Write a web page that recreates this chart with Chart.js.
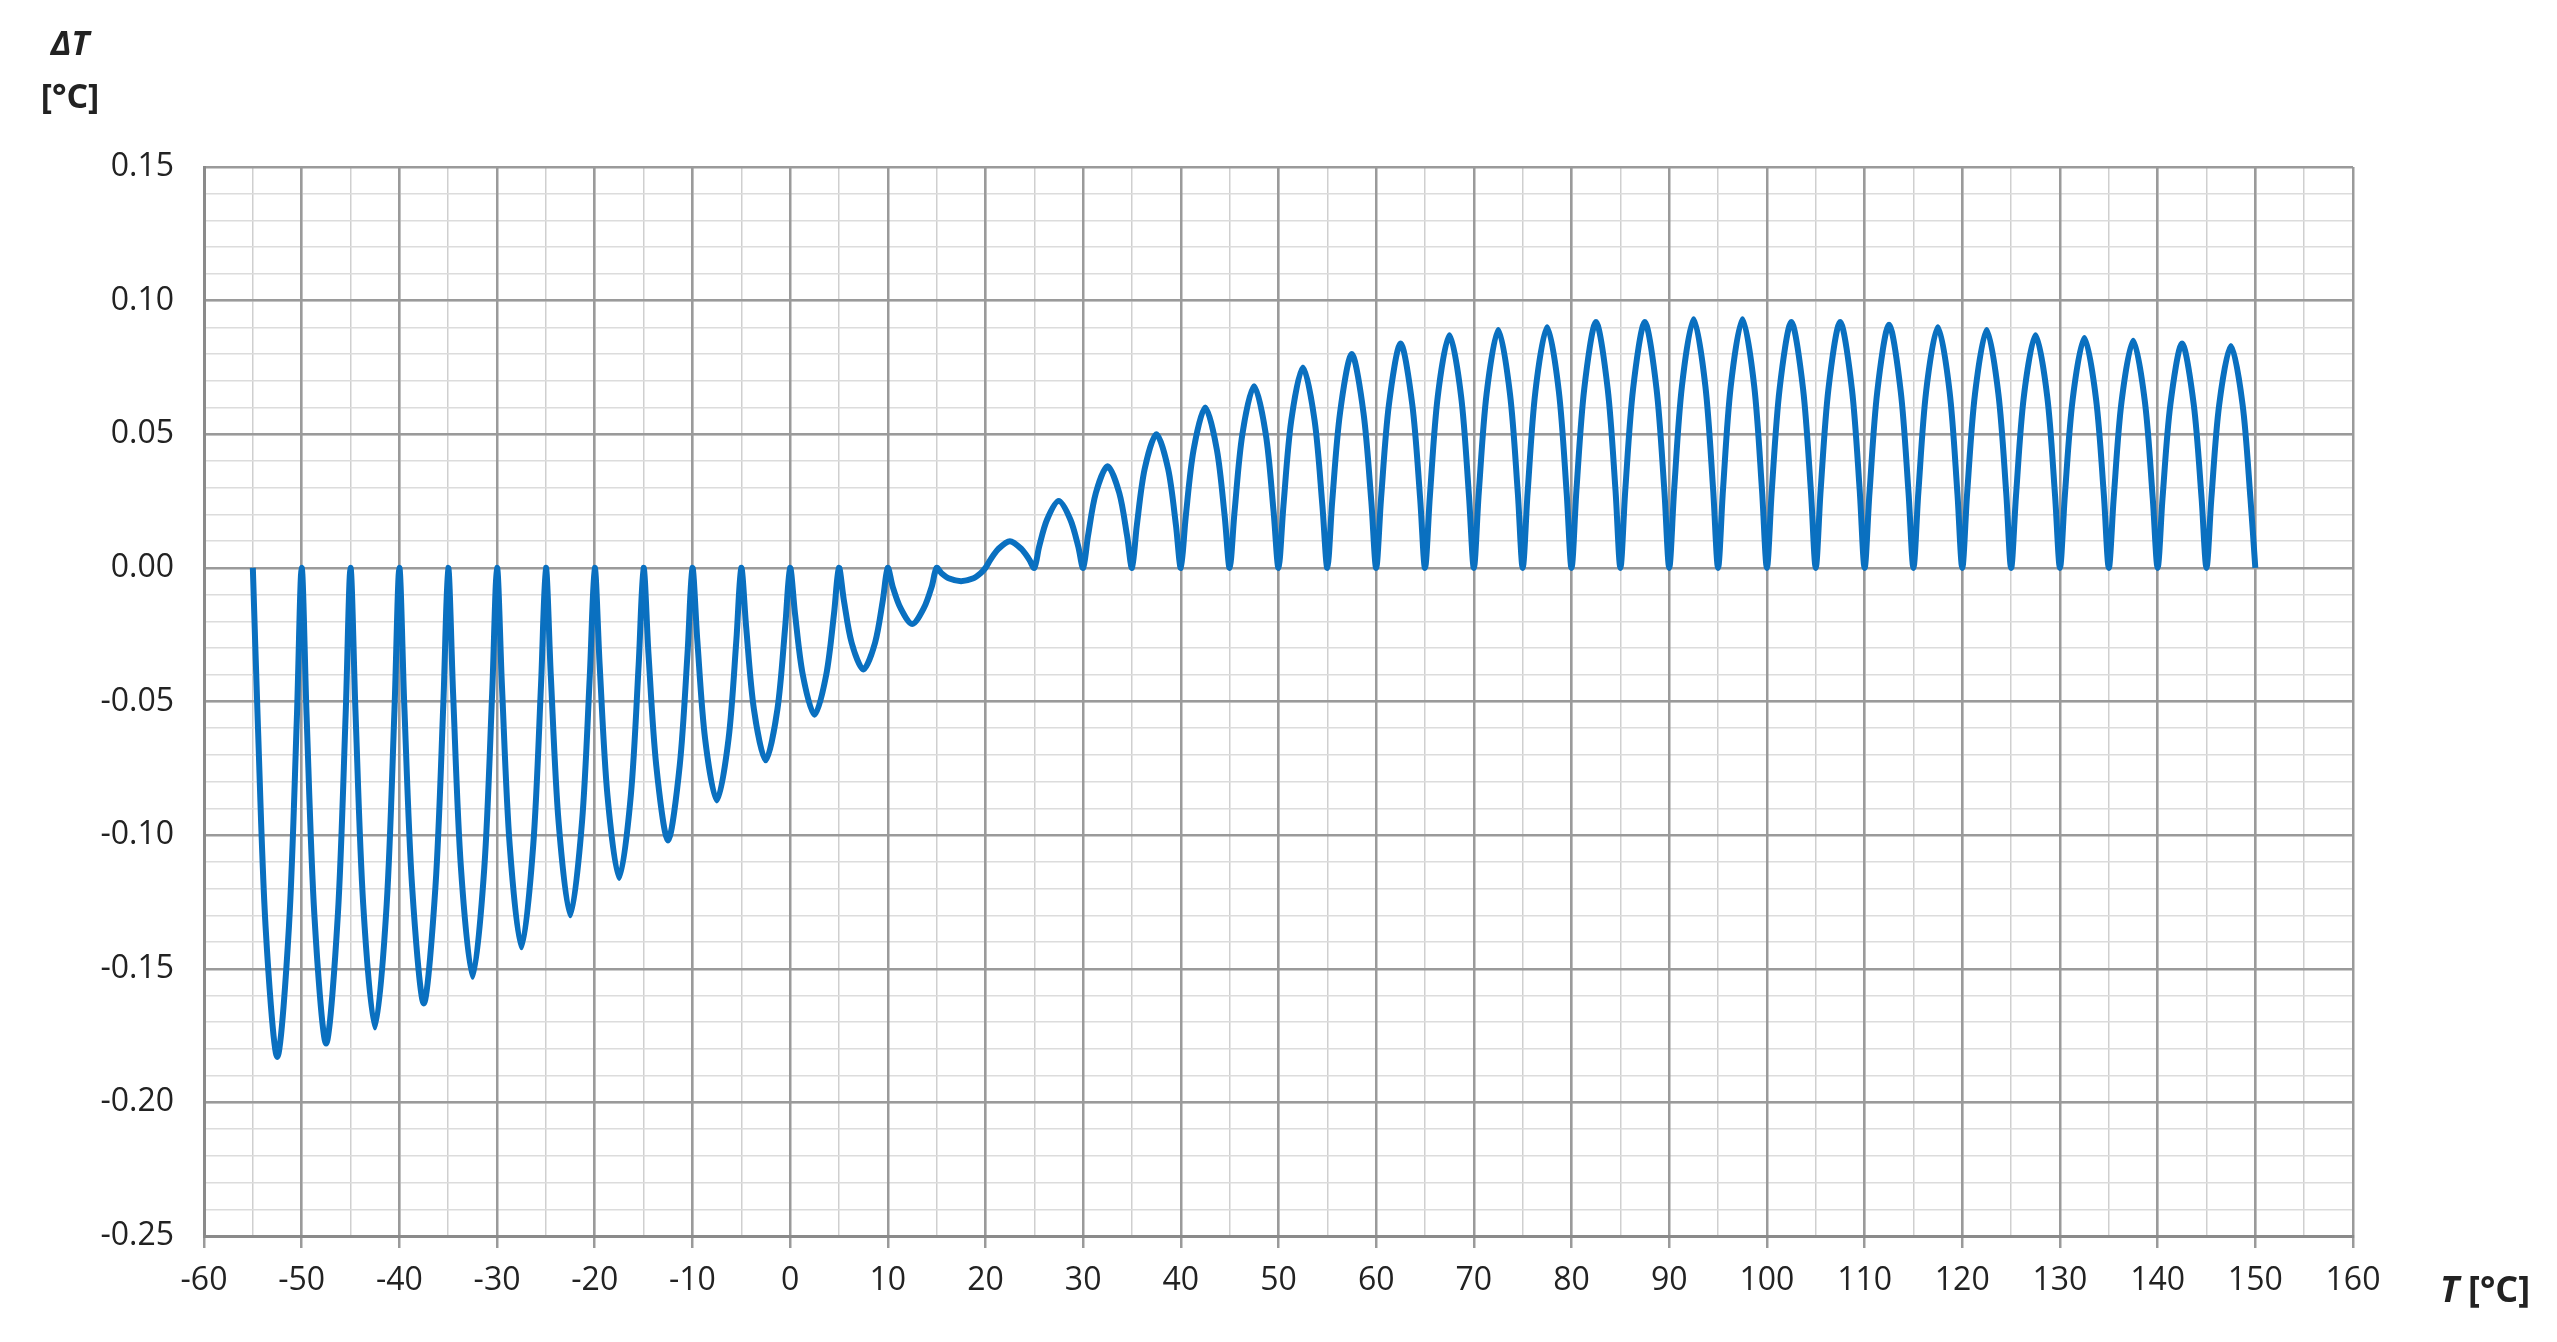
<!DOCTYPE html>
<html><head><meta charset="utf-8">
<script src="https://cdn.jsdelivr.net/npm/chart.js@4"></script>
<style>html,body{margin:0;padding:0;background:#fff}#w{width:2557px;height:1342px}</style>
</head><body><div id="w"><canvas id="c"></canvas></div>
<script>
// Each lobe starts at 0 at lobeStarts[i], values at offsets 0.5,1.3,2.5,3.7,4.5
const lobeStarts = [-55,-50,-45,-40,-35,-30,-25,-20,-15,-10,-5,0,5,10,15,20,25,30,35,40,45,50,55,60,65,70,75,80,85,90,95,100,105,110,115,120,125,130,135,140,145];
const lobeOffsets = [0.5,1.3,2.5,3.7,4.5];
const lobeValues = [
[-0.057,-0.134,-0.183,-0.134,-0.057],
[-0.055,-0.130,-0.178,-0.130,-0.055],
[-0.053,-0.126,-0.172,-0.126,-0.053],
[-0.051,-0.119,-0.163,-0.119,-0.051],
[-0.047,-0.112,-0.153,-0.112,-0.047],
[-0.044,-0.104,-0.142,-0.104,-0.044],
[-0.040,-0.095,-0.130,-0.095,-0.040],
[-0.036,-0.085,-0.116,-0.085,-0.036],
[-0.032,-0.074,-0.102,-0.074,-0.032],
[-0.027,-0.064,-0.087,-0.064,-0.027],
[-0.022,-0.053,-0.072,-0.053,-0.022],
[-0.017,-0.040,-0.055,-0.040,-0.017],
[-0.012,-0.028,-0.038,-0.028,-0.012],
[-0.007,-0.015,-0.021,-0.015,-0.007],
[-0.002,-0.004,-0.005,-0.004,-0.002],
[0.003,0.007,0.010,0.007,0.003],
[0.008,0.018,0.025,0.018,0.008],
[0.012,0.028,0.038,0.028,0.012],
[0.016,0.037,0.050,0.037,0.016],
[0.019,0.044,0.060,0.044,0.019],
[0.021,0.050,0.068,0.050,0.021],
[0.023,0.055,0.075,0.055,0.023],
[0.025,0.058,0.080,0.058,0.025],
[0.026,0.061,0.084,0.061,0.026],
[0.027,0.064,0.087,0.064,0.027],
[0.028,0.065,0.089,0.065,0.028],
[0.028,0.066,0.090,0.066,0.028],
[0.029,0.067,0.092,0.067,0.029],
[0.029,0.067,0.092,0.067,0.029],
[0.029,0.068,0.093,0.068,0.029],
[0.029,0.068,0.093,0.068,0.029],
[0.029,0.067,0.092,0.067,0.029],
[0.029,0.067,0.092,0.067,0.029],
[0.028,0.066,0.091,0.066,0.028],
[0.028,0.066,0.090,0.066,0.028],
[0.028,0.065,0.089,0.065,0.028],
[0.027,0.064,0.087,0.064,0.027],
[0.027,0.063,0.086,0.063,0.027],
[0.026,0.062,0.085,0.062,0.026],
[0.026,0.061,0.084,0.061,0.026],
[0.026,0.061,0.083,0.061,0.026]
];
const endPoint = {x:150, y:0};

const pts = [];
lobeStarts.forEach((s,i)=>{
  pts.push({x:s,y:0});
  lobeOffsets.forEach((o,j)=>pts.push({x:s+o,y:lobeValues[i][j]}));
});
pts.push(endPoint);

const F = "'Open Sans', sans-serif";
const labels = {
  id:'labels',
  afterDraw(ch){
    const c=ch.ctx; c.save(); c.fillStyle='#222'; c.textBaseline='middle'; c.textAlign='center';
    c.font="italic bold 34px "+F; c.fillText('ΔT',70,45);
    c.font="bold 34px "+F; c.fillText('[°C]',70,98);
    c.textAlign='left';
    c.font="italic bold 36px "+F; c.fillText('T',2440,1292);
    c.font="bold 36px "+F; c.fillText('[°C]',2468,1292);
    c.restore();
  }
};
new Chart(document.getElementById('c'),{
  type:'line',
  data:{datasets:[{data:pts,borderColor:'#0a70c0',borderWidth:6,pointRadius:0,tension:0.3,fill:false}]},
  options:{
    responsive:true,maintainAspectRatio:false,animation:false,
    layout:{padding:{left:0,top:167,right:204,bottom:0}},
    plugins:{legend:{display:false},tooltip:{enabled:false}},
    scales:{
      x2:{type:'linear',min:-60,max:160,position:'bottom',display:true,
        ticks:{stepSize:5,display:false},border:{display:false},
        grid:{color:'#cfcfcf',lineWidth:1.5,tickLength:0,drawTicks:false},
        afterFit(s){s.height=0;}},
      y2:{type:'linear',min:-0.25,max:0.15,position:'left',
        ticks:{stepSize:0.01,display:false},border:{display:false},
        grid:{color:'#dcdcdc',lineWidth:1.5,tickLength:0,drawTicks:false},
        afterFit(s){s.width=0;}},
      x:{type:'linear',min:-60,max:160,
        ticks:{stepSize:10,color:'#222',font:{family:F,size:32},padding:14},
        border:{color:'#8a8a8a',width:3},
        grid:{color:'#9a9a9a',lineWidth:2.5,tickLength:12},
        afterFit(s){s.height=106;}},
      y:{type:'linear',min:-0.25,max:0.15,
        ticks:{stepSize:0.05,color:'#222',font:{family:F,size:32},padding:30,callback:v=>v.toFixed(2)},
        border:{color:'#8a8a8a',width:3},
        grid:{color:'#9a9a9a',lineWidth:2.5,tickLength:0,drawTicks:false},
        afterFit(s){s.width=204;}}
    }
  },
  plugins:[labels]
});
</script></body></html>
